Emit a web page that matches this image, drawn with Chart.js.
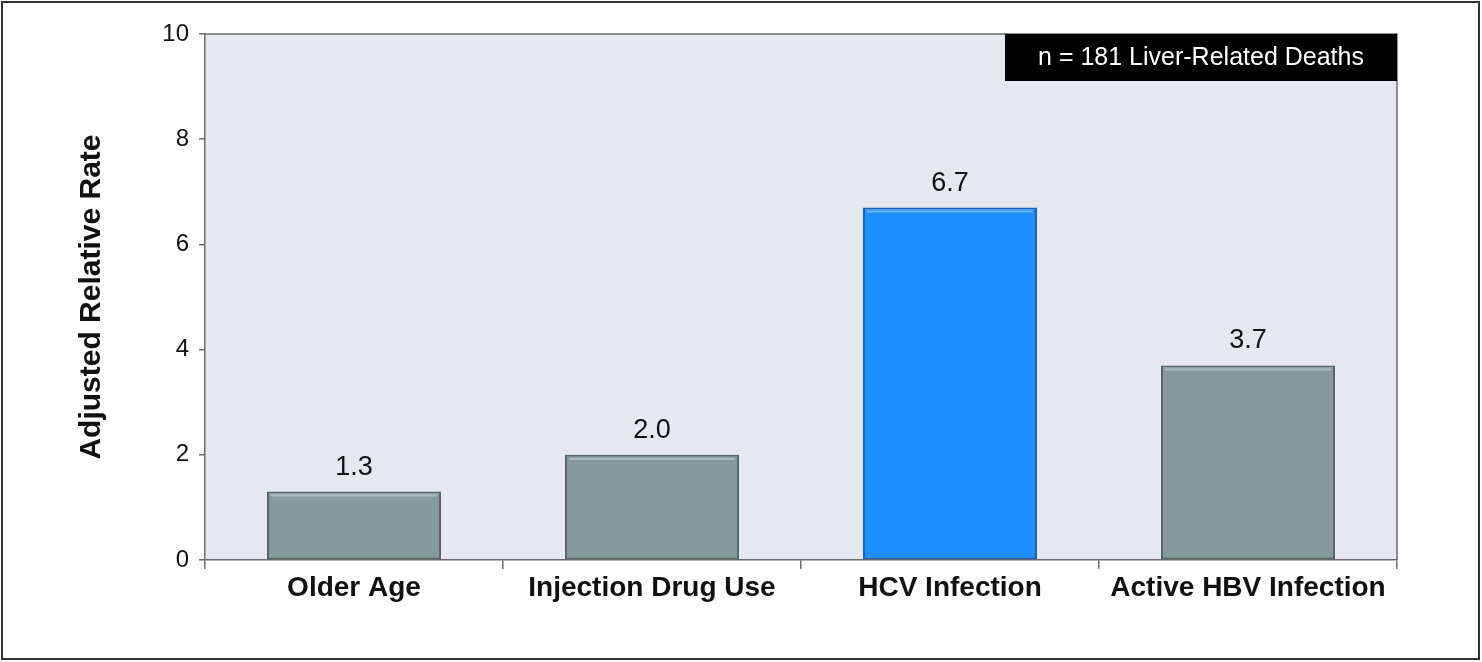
<!DOCTYPE html>
<html>
<head>
<meta charset="utf-8">
<script src="https://cdn.jsdelivr.net/npm/chart.js@4"></script>
<style>
  html, body { margin: 0; padding: 0; background: #fff; }
  canvas { display: block; }
</style>
</head>
<body>
<canvas id="barChart" width="1482" height="662"></canvas>
<script>
// chart values
const categories = ["Older Age", "Injection Drug Use", "HCV Infection", "Active HBV Infection"];
const rates = [1.3, 2.0, 6.7, 3.7];
const barColors = ["#869a9d", "#869a9d", "#1e8fff", "#869a9d"];
const barBorders = ["#56676a", "#56676a", "#1a62b8", "#56676a"];
const yTicks = [0, 2, 4, 6, 8, 10];
const noteText = "n = 181 Liver-Related Deaths";

const FONT = "'Liberation Sans', Arial, Helvetica, sans-serif";

// background of plot, frame lines, value labels, note box, outer border
const decorPlugin = {
  id: "decor",
  beforeDraw(chart) {
    const { ctx, chartArea: a } = chart;
    ctx.save();
    ctx.fillStyle = "#e5e8ef";
    ctx.fillRect(a.left, a.top, a.right - a.left, a.bottom - a.top);
    ctx.restore();
  },
  afterDatasetsDraw(chart) {
    const { ctx, chartArea: a } = chart;
    const meta = chart.getDatasetMeta(0);
    ctx.save();
    // light bevel on top of each bar
    meta.data.forEach((bar) => {
      const half = bar.width / 2;
      ctx.strokeStyle = "rgba(255,255,255,0.35)";
      ctx.lineWidth = 2;
      ctx.beginPath();
      ctx.moveTo(bar.x - half + 4, bar.y + 4);
      ctx.lineTo(bar.x + half - 4, bar.y + 4);
      ctx.stroke();
    });
    // value labels
    ctx.fillStyle = "#111";
    ctx.font = "27px " + FONT;
    ctx.textAlign = "center";
    ctx.textBaseline = "bottom";
    meta.data.forEach((bar, i) => {
      ctx.fillText(rates[i].toFixed(1), bar.x, bar.y - 11);
    });
    // top and right frame lines
    ctx.strokeStyle = "#6b6b6b";
    ctx.lineWidth = 1.5;
    ctx.beginPath();
    ctx.moveTo(a.left, a.top);
    ctx.lineTo(a.right, a.top);
    ctx.lineTo(a.right, a.bottom);
    ctx.stroke();
    // note box
    const boxW = 392, boxH = 47;
    ctx.fillStyle = "#000";
    ctx.fillRect(a.right - boxW, a.top, boxW, boxH);
    ctx.fillStyle = "#fff";
    ctx.font = "25px " + FONT;
    ctx.textBaseline = "middle";
    ctx.fillText(noteText, a.right - boxW / 2, a.top + boxH / 2 + 1);
    // outer border
    ctx.strokeStyle = "#333";
    ctx.lineWidth = 2;
    ctx.strokeRect(2, 2, chart.width - 5, chart.height - 5);
    ctx.restore();
  },
};

const ctx = document.getElementById("barChart");
new Chart(ctx, {
  type: "bar",
  data: {
    labels: categories,
    datasets: [
      {
        data: rates,
        backgroundColor: barColors,
        borderColor: barBorders,
        borderWidth: 2,
        borderSkipped: false,
        barPercentage: 0.584,
        categoryPercentage: 1.0,
      },
    ],
  },
  options: {
    responsive: false,
    animation: false,
    layout: { padding: { left: 0, right: 85, top: 34, bottom: 0 } },
    plugins: {
      legend: { display: false },
      tooltip: { enabled: false },
    },
    scales: {
      x: {
        afterFit(scale) { scale.height = 102; },
        grid: {
          display: true,
          offset: true,
          drawOnChartArea: false,
          drawTicks: true,
          tickLength: 9,
          color: "#6b6b6b",
          lineWidth: 1.5,
        },
        border: { display: true, color: "#6b6b6b", width: 1.5 },
        ticks: {
          color: "#111",
          padding: 2,
          font: { family: FONT, size: 28, weight: "bold" },
        },
      },
      y: {
        min: 0,
        max: 10,
        afterFit(scale) { scale.width = 205; },
        afterBuildTicks(scale) { scale.ticks = yTicks.map((v) => ({ value: v })); },
        grid: {
          display: true,
          drawOnChartArea: false,
          drawTicks: true,
          tickLength: 6,
          color: "#6b6b6b",
          lineWidth: 1.5,
        },
        border: { display: true, color: "#6b6b6b", width: 1.5 },
        ticks: {
          color: "#111",
          padding: 10,
          font: { family: FONT, size: 24 },
        },
        title: {
          display: true,
          text: "Adjusted Relative Rate",
          color: "#111",
          padding: { top: 74, bottom: 0 },
          font: { family: FONT, size: 30, weight: "bold", lineHeight: 1.2 },
        },
      },
    },
  },
  plugins: [decorPlugin],
});
</script>
</body>
</html>
